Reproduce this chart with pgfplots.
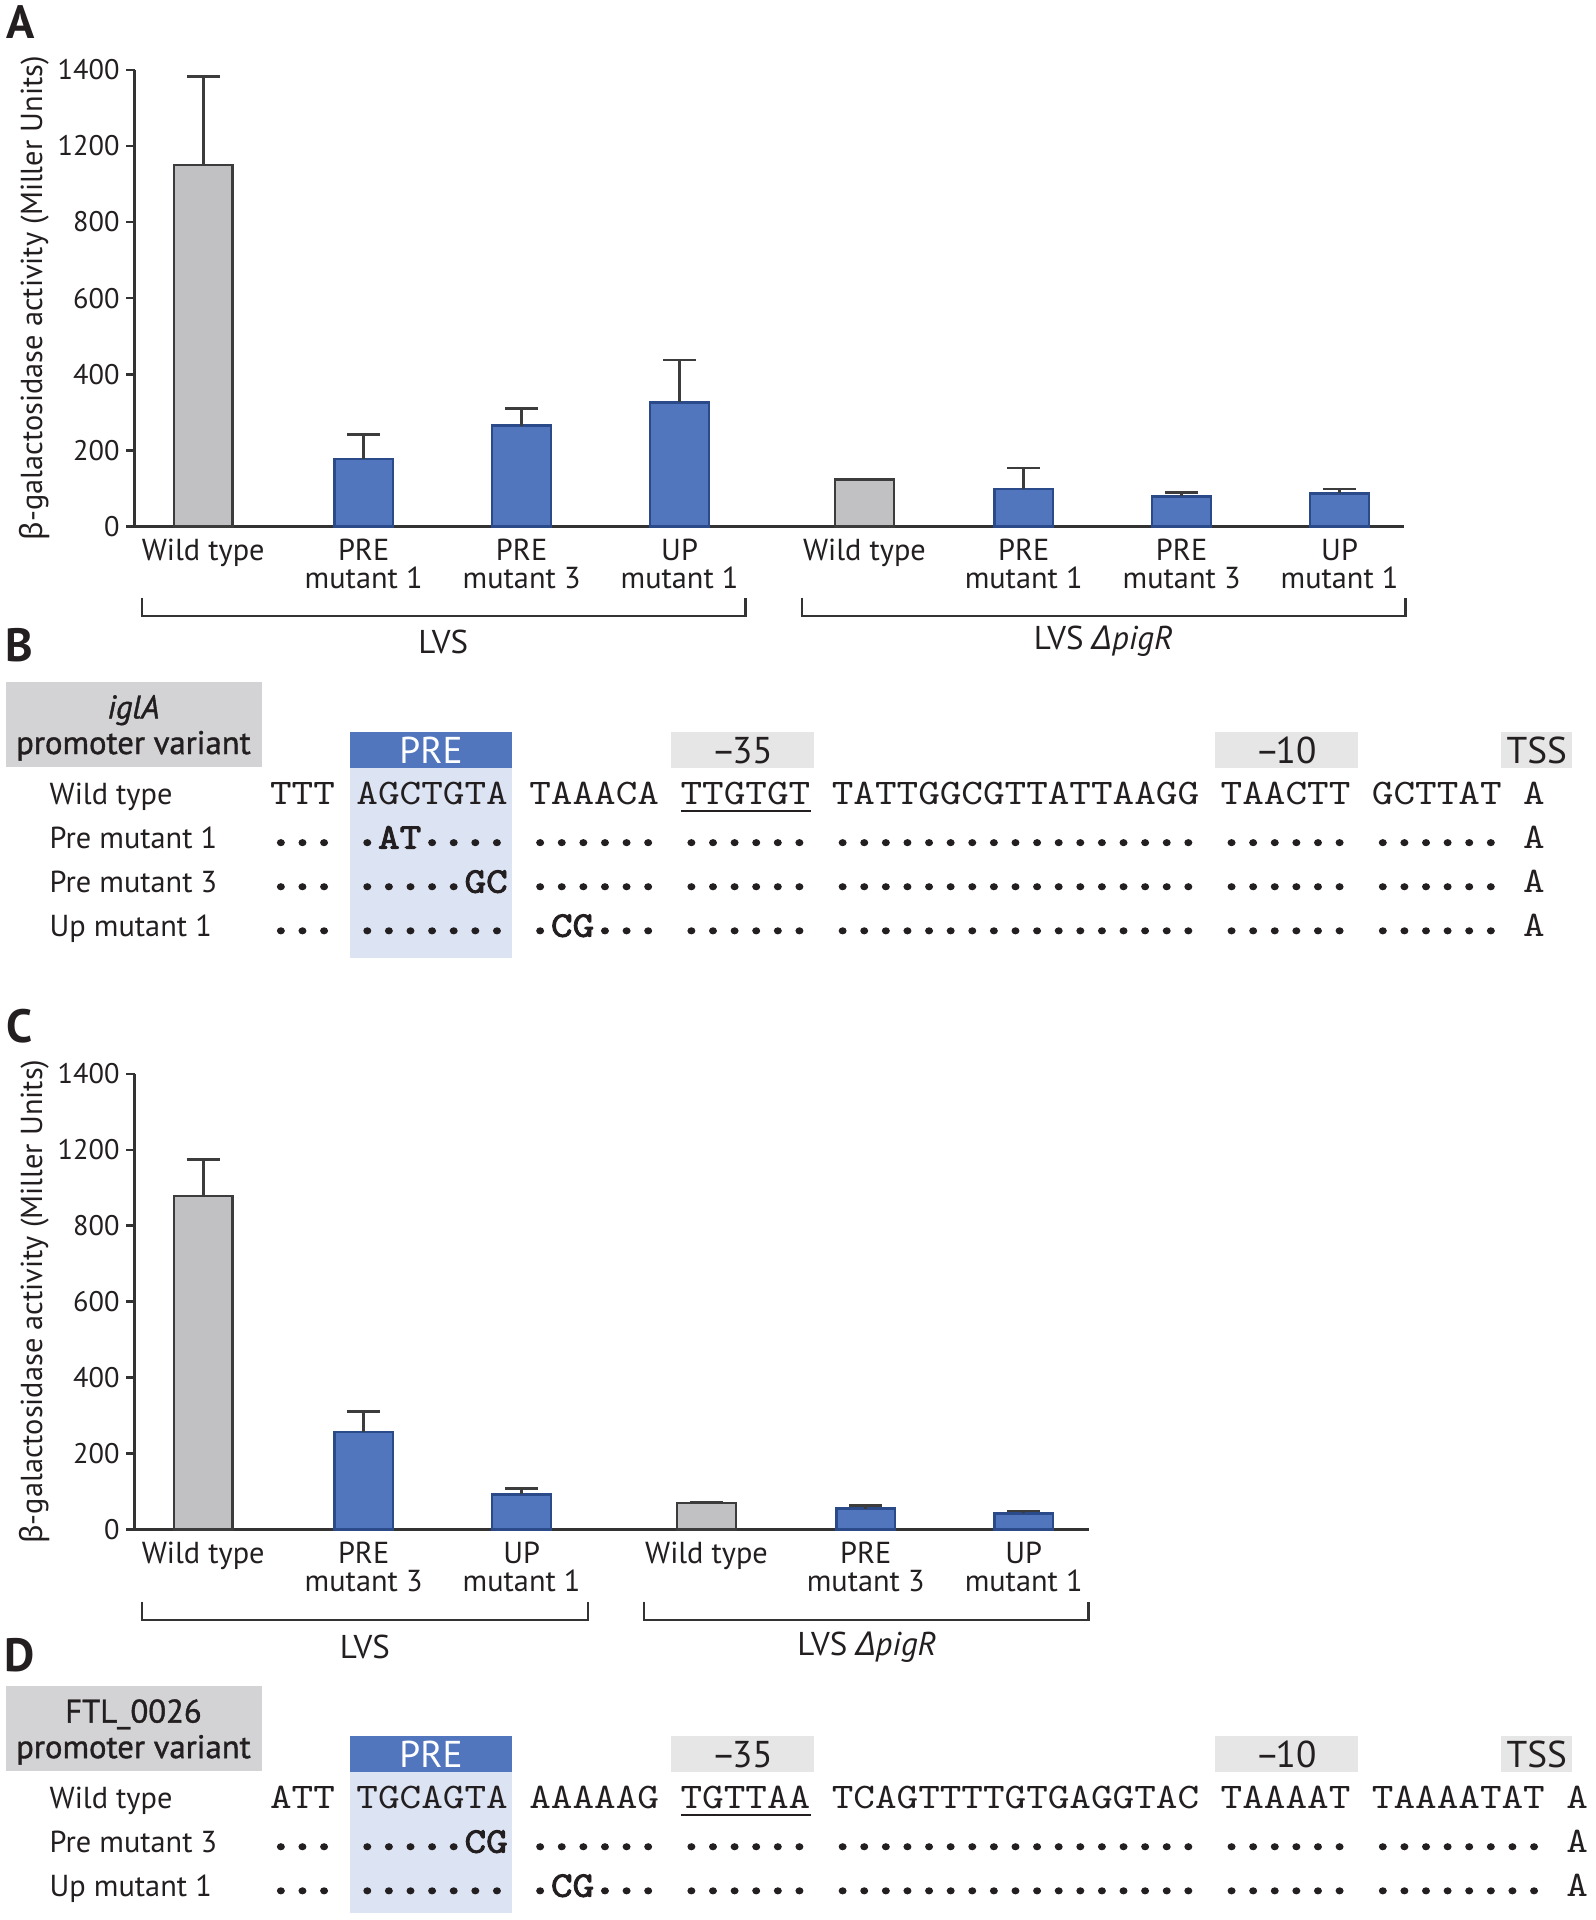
\documentclass[border=0pt]{standalone}
\usepackage{pgfplots}
\pgfplotsset{compat=1.18}
\usepackage{pgfplotstable}
\usepackage{fontspec}
\setmainfont{PT Sans}
\setsansfont{PT Sans}
\newfontfamily\grk{Noto Sans}
\newfontfamily\semib{PT Sans}[FakeBold=1.2]
\newfontfamily\cour{lmmono10-regular.otf}[FakeStretch=1.142857]
\newfontfamily\courb{lmmono10-regular.otf}[FakeStretch=1.142857, FakeBold=2.5]
\definecolor{txt}{HTML}{231F20}
\definecolor{barG}{HTML}{C1C0C2}
\definecolor{barGe}{HTML}{3C3C3C}
\definecolor{barB}{HTML}{5276BD}
\definecolor{barBe}{HTML}{2B4A8A}
\definecolor{hdrG}{HTML}{D3D3D5}
\definecolor{hdrL}{HTML}{E6E6E6}
\definecolor{preB}{HTML}{5176BE}
\definecolor{preL}{HTML}{DCE3F2}
\definecolor{axc}{HTML}{333333}
\newlength{\U}\setlength{\U}{0.36724bp}
\newlength{\pitch}\setlength{\pitch}{6.48bp}
\newcommand{\lab}{\fontsize{9.1bp}{8.3bp}\selectfont}
\newcommand{\ylb}{\fontsize{8.5bp}{9bp}\selectfont}
\newcommand{\brk}{\fontsize{9.9bp}{11bp}\selectfont}
\newcommand{\hdr}{\fontsize{11.2bp}{12bp}\selectfont}
\newcommand{\mono}{\cour\fontsize{10.8bp}{12bp}\selectfont}
\newcommand{\dt}{\makebox[\pitch][c]{\raisebox{0.9bp}{\scalebox{1.3}{\courb .}}}}
\newcommand{\s}{\kern\pitch}
\newcommand{\B}[1]{{\courb #1}}
\newcommand{\mn}{–\kern-1.2bp}
\ExplSyntaxOn
\cs_new:Npn \D #1 {\prg_replicate:nn{#1}{\dt}}
\ExplSyntaxOff
\newcommand{\ylab}{{\grk β}-galactosidase activity (Miller Units)}

% panel A data (x = position, y = bar height, e = upper error)
\pgfplotstableread{
x y e
166 950 232
706 123 0
}\Ag
\pgfplotstableread{
x y e
297 178 64
426 265 45
555 326 112
836 98 56
965 79 11
1094 87 12
}\Ab
% panel C data
\pgfplotstableread{
x y e
166 878 97
577 69 3
}\Cg
\pgfplotstableread{
x y e
297 256 54
426 92 16
707 55 8
836 42 6
}\Cb

\pgfplotsset{
  barax/.style={scale only axis, axis lines*=left,
    axis line style={-, axc, line width=0.75bp},
    ymin=0, ymax=1200, ytick={0,200,...,1200},
    yticklabels={0,200,400,600,800,1200,1400},
    tick align=outside, major tick length=7\U,
    ytick style={axc, line width=0.75bp}, xtick style={draw=none},
    ticklabel style={font=\lab, text=txt},
    yticklabel style={font=\ylb, inner sep=1.8bp},
    xticklabel style={align=center, yshift=6\U},
    /pgf/number format/assume math mode=true,
    clip=false, ylabel={\ylab}, ylabel style={font=\lab, text=txt, anchor=center}},
  grayb/.style={ybar, bar width=48, bar shift=0pt, fill=barG, draw=barGe, line width=0.75bp,
    error bars/.cd, y dir=plus, y explicit,
    error bar style={barGe, line width=0.75bp},
    error mark options={barGe, line width=0.75bp, mark size=13.5\U, rotate=90}},
  blueb/.style={ybar, bar width=48, bar shift=0pt, fill=barB, draw=barBe, line width=0.75bp,
    error bars/.cd, y dir=plus, y explicit,
    error bar style={barGe, line width=0.75bp},
    error mark options={barGe, line width=0.75bp, mark size=13.5\U, rotate=90}},
}

\begin{document}
\begin{tikzpicture}
\useasboundingbox (0,0) rectangle (1303\U,-1568\U);

% ---------------- Panel A axis ----------------
\begin{axis}[barax, at={(110\U,-430\U)}, anchor=south west,
  width=1037\U, height=373\U, xmin=110, xmax=1147,
  ylabel style={at={(axis description cs:-0.0791,0.5)}},
  xtick={166,297,426,555,706,836,965,1094},
  xticklabels={Wild type,{PRE\\mutant 1},{PRE\\mutant 3},{UP\\mutant 1},Wild type,{PRE\\mutant 1},{PRE\\mutant 3},{UP\\mutant 1}}]
\addplot[grayb] table[x=x,y=y,y error=e] {\Ag};
\addplot[blueb] table[x=x,y=y,y error=e] {\Ab};
\end{axis}

% ---------------- Panel C axis ----------------
\begin{axis}[barax, at={(110\U,-1249\U)}, anchor=south west,
  width=779\U, height=372\U, xmin=110, xmax=889,
  ylabel style={at={(axis description cs:-0.1053,0.5)}},
  xtick={166,297,426,577,707,836},
  xticklabels={Wild type,{PRE\\mutant 3},{UP\\mutant 1},Wild type,{PRE\\mutant 3},{UP\\mutant 1}}]
\addplot[grayb] table[x=x,y=y,y error=e] {\Cg};
\addplot[blueb] table[x=x,y=y,y error=e] {\Cb};
\end{axis}

\begin{scope}[x=\U, y=-\U, every node/.style={text=txt}]
\node[font=\fontsize{14bp}{15bp}\selectfont\bfseries] at (17,18) {A};
\draw[axc, line width=0.75bp] (116,488) -- (116,503) -- (609,503) -- (609,488);
\draw[axc, line width=0.75bp] (655,488) -- (655,503) -- (1148,503) -- (1148,488);
\node[font=\brk] at (362,524) {LVS};
\node[font=\brk] at (901,524) {LVS {\grk\itshape Δ}\textit{pigR}};

% ---------------- Panel B ----------------
\node[font=\fontsize{14bp}{15bp}\selectfont\bfseries] at (16,527) {B};
\fill[hdrG] (5,557) rectangle (214,626);
\node[font=\fontsize{9.8bp}{10bp}\selectfont\semib\itshape] at (109,580) {iglA};
\node[font=\fontsize{9.8bp}{10bp}\selectfont\semib] at (109,609) {promoter variant};
\fill[preL] (286,627) rectangle (418,782);
\fill[preB] (286,598) rectangle (418,627);
\fill[hdrL] (548,598) rectangle (665,627);
\fill[hdrL] (992,598) rectangle (1109,627);
\fill[hdrL] (1226,598) rectangle (1284,627);
\node[font=\hdr, text=white] at (352,613) {PRE};
\node[font=\hdr] at (606,613) {\mn35};
\node[font=\hdr] at (1050,613) {\mn10};
\node[font=\hdr] at (1255,613) {TSS};
\node[font=\lab, anchor=base west, inner sep=0pt] at (40,657) {Wild type};
\node[font=\lab, anchor=base west, inner sep=0pt] at (40,693) {Pre mutant 1};
\node[font=\lab, anchor=base west, inner sep=0pt] at (40,729) {Pre mutant 3};
\node[font=\lab, anchor=base west, inner sep=0pt] at (40,765) {Up mutant 1};
\node[font=\mono, anchor=base west, inner sep=0pt] at (220,657) {TTT\s AGCTGTA\s TAAACA\s TTGTGT\s TATTGGCGTTATTAAGG\s TAACTT\s GCTTAT\s A};
\node[font=\mono, anchor=base west, inner sep=0pt] at (220,693) {\D3\s\D1\B{AT}\D4\s\D6\s\D6\s\D{17}\s\D6\s\D6\s A};
\node[font=\mono, anchor=base west, inner sep=0pt] at (220,729) {\D3\s\D5\B{GC}\s\D6\s\D6\s\D{17}\s\D6\s\D6\s A};
\node[font=\mono, anchor=base west, inner sep=0pt] at (220,765) {\D3\s\D7\s\D1\B{CG}\D3\s\D6\s\D{17}\s\D6\s\D6\s A};
\draw[txt, line width=0.6bp] (556,662) -- (662,662);

% ---------------- Panel C annotations ----------------
\node[font=\fontsize{14bp}{15bp}\selectfont\bfseries] at (16,838) {C};
\draw[axc, line width=0.75bp] (116,1308) -- (116,1323) -- (480,1323) -- (480,1308);
\draw[axc, line width=0.75bp] (526,1308) -- (526,1323) -- (889,1323) -- (889,1308);
\node[font=\brk] at (298,1345) {LVS};
\node[font=\brk] at (708,1345) {LVS {\grk\itshape Δ}\textit{pigR}};

% ---------------- Panel D ----------------
\node[font=\fontsize{14bp}{15bp}\selectfont\bfseries] at (16,1352) {D};
\fill[hdrG] (5,1377) rectangle (214,1446);
\node[font=\fontsize{9.8bp}{10bp}\selectfont\semib] at (109,1400) {FTL\_0026};
\node[font=\fontsize{9.8bp}{10bp}\selectfont\semib] at (109,1429) {promoter variant};
\fill[preL] (286,1447) rectangle (418,1562);
\fill[preB] (286,1418) rectangle (418,1447);
\fill[hdrL] (548,1418) rectangle (665,1447);
\fill[hdrL] (992,1418) rectangle (1109,1447);
\fill[hdrL] (1226,1418) rectangle (1284,1447);
\node[font=\hdr, text=white] at (352,1433) {PRE};
\node[font=\hdr] at (606,1433) {\mn35};
\node[font=\hdr] at (1050,1433) {\mn10};
\node[font=\hdr] at (1255,1433) {TSS};
\node[font=\lab, anchor=base west, inner sep=0pt] at (40,1477) {Wild type};
\node[font=\lab, anchor=base west, inner sep=0pt] at (40,1513) {Pre mutant 3};
\node[font=\lab, anchor=base west, inner sep=0pt] at (40,1549) {Up mutant 1};
\node[font=\mono, anchor=base west, inner sep=0pt] at (220,1477) {ATT\s TGCAGTA\s AAAAAG\s TGTTAA\s TCAGTTTTGTGAGGTAC\s TAAAAT\s TAAAATAT\s A};
\node[font=\mono, anchor=base west, inner sep=0pt] at (220,1513) {\D3\s\D5\B{CG}\s\D6\s\D6\s\D{17}\s\D6\s\D8\s A};
\node[font=\mono, anchor=base west, inner sep=0pt] at (220,1549) {\D3\s\D7\s\D1\B{CG}\D3\s\D6\s\D{17}\s\D6\s\D8\s A};
\draw[txt, line width=0.6bp] (556,1482) -- (662,1482);
\end{scope}
\end{tikzpicture}
\end{document}
